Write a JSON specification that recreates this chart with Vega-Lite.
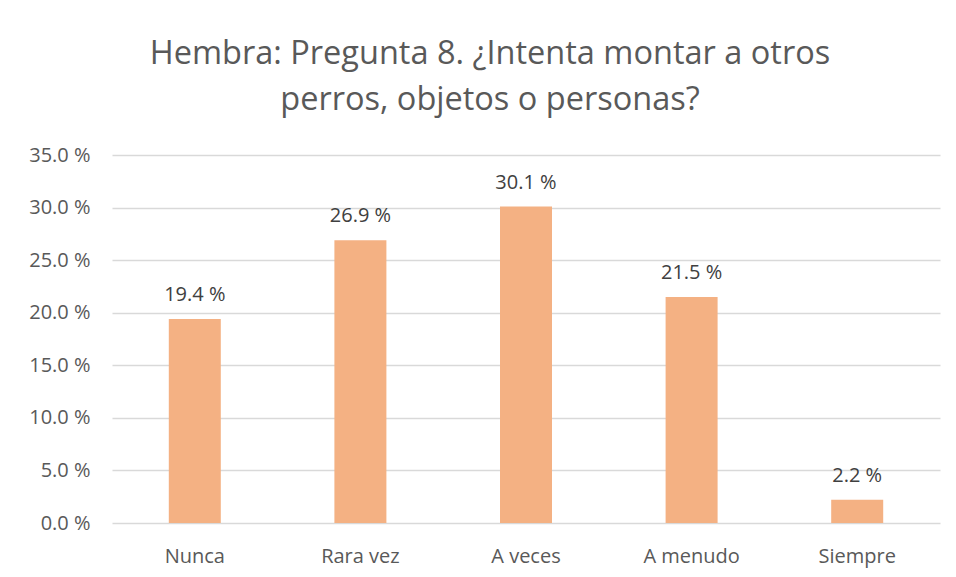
{
  "$schema": "https://vega.github.io/schema/vega-lite/v6.json",
  "width": 828,
  "height": 368,
  "autosize": {"type": "none"},
  "padding": {"left": 112, "top": 155, "right": 16, "bottom": 54},
  "background": "white",
  "title": {
    "text": ["Hembra: Pregunta 8. ¿Intenta montar a otros", "perros, objetos o personas?"],
    "font": "Open Sans",
    "fontSize": 32.5,
    "fontWeight": "normal",
    "color": "#595959",
    "lineHeight": 46,
    "anchor": "middle",
    "dx": -36,
    "offset": 29
  },
  "data": {
    "values": [
      {"cat": "Nunca", "pct": 19.4, "label": "19.4 %"},
      {"cat": "Rara vez", "pct": 26.9, "label": "26.9 %"},
      {"cat": "A veces", "pct": 30.1, "label": "30.1 %"},
      {"cat": "A menudo", "pct": 21.5, "label": "21.5 %"},
      {"cat": "Siempre", "pct": 2.2, "label": "2.2 %"}
    ]
  },
  "config": {
    "view": {"stroke": null},
    "axis": {"labelFont": "Open Sans", "labelFontSize": 20, "labelColor": "#595959"}
  },
  "encoding": {
    "x": {
      "field": "cat", "type": "nominal", "sort": null,
      "scale": {"paddingInner": 0, "paddingOuter": 0},
      "axis": {"title": null, "labelAngle": 0, "domain": false, "ticks": false, "labelPadding": 23}
    },
    "y": {
      "field": "pct", "type": "quantitative",
      "scale": {"domain": [0, 35], "nice": false},
      "axis": {
        "title": null, "values": [0, 5, 10, 15, 20, 25, 30, 35],
        "labelExpr": "format(datum.value, '.1f') + ' %'",
        "domain": false, "ticks": false, "labelPadding": 22,
        "gridColor": "#d9d9d9", "gridWidth": 1.5
      }
    }
  },
  "layer": [
    {"mark": {"type": "bar", "size": 52, "color": "#f4b183"}},
    {
      "mark": {"type": "text", "font": "Open Sans", "fontSize": 20, "color": "#404040", "baseline": "alphabetic", "dy": -18},
      "encoding": {"text": {"field": "label", "type": "nominal"}}
    }
  ]
}
